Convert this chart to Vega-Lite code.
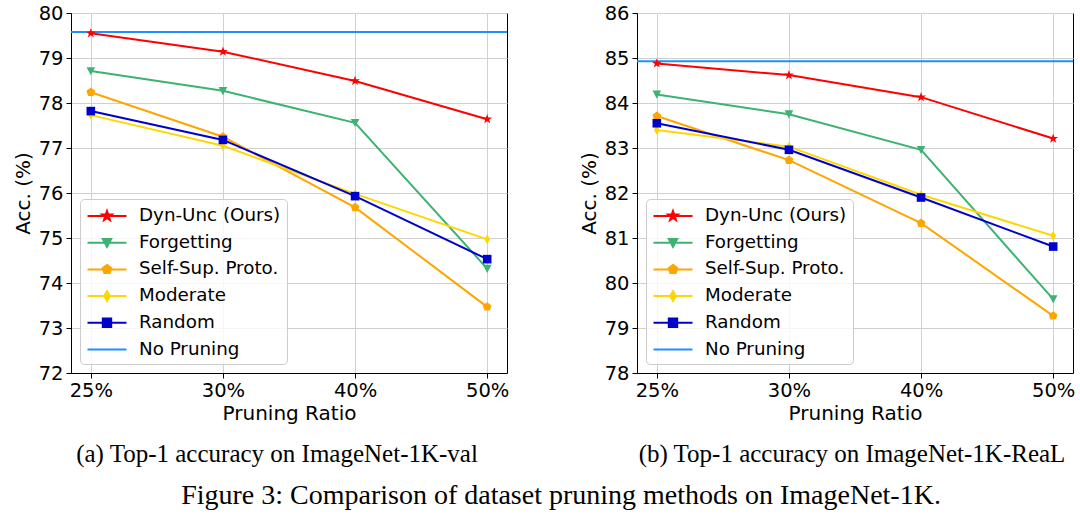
{
  "$schema": "https://vega.github.io/schema/vega-lite/v6.json",
  "background": "white",
  "padding": {"left": 12, "top": 2, "right": 4, "bottom": 2},
  "spacing": 68,
  "title": {"text": "Figure 3: Comparison of dataset pruning methods on ImageNet-1K.", "orient": "bottom", "anchor": "middle", "font": "Liberation Serif", "fontSize": 28, "fontWeight": "normal", "color": "black", "offset": 15, "dx": 17},
  "datasets": {
    "acc": [
      {"panel": "a", "method": "Dyn-Unc (Ours)", "ratio": "25%", "acc": 79.55},
      {"panel": "a", "method": "Dyn-Unc (Ours)", "ratio": "30%", "acc": 79.14},
      {"panel": "a", "method": "Dyn-Unc (Ours)", "ratio": "40%", "acc": 78.49},
      {"panel": "a", "method": "Dyn-Unc (Ours)", "ratio": "50%", "acc": 77.64},
      {"panel": "a", "method": "Forgetting", "ratio": "25%", "acc": 78.71},
      {"panel": "a", "method": "Forgetting", "ratio": "30%", "acc": 78.27},
      {"panel": "a", "method": "Forgetting", "ratio": "40%", "acc": 77.56},
      {"panel": "a", "method": "Forgetting", "ratio": "50%", "acc": 74.32},
      {"panel": "a", "method": "Self-Sup. Proto.", "ratio": "25%", "acc": 78.24},
      {"panel": "a", "method": "Self-Sup. Proto.", "ratio": "30%", "acc": 77.25},
      {"panel": "a", "method": "Self-Sup. Proto.", "ratio": "40%", "acc": 75.68},
      {"panel": "a", "method": "Self-Sup. Proto.", "ratio": "50%", "acc": 73.47},
      {"panel": "a", "method": "Moderate", "ratio": "25%", "acc": 77.73},
      {"panel": "a", "method": "Moderate", "ratio": "30%", "acc": 77.05},
      {"panel": "a", "method": "Moderate", "ratio": "40%", "acc": 75.98},
      {"panel": "a", "method": "Moderate", "ratio": "50%", "acc": 74.97},
      {"panel": "a", "method": "Random", "ratio": "25%", "acc": 77.82},
      {"panel": "a", "method": "Random", "ratio": "30%", "acc": 77.18},
      {"panel": "a", "method": "Random", "ratio": "40%", "acc": 75.93},
      {"panel": "a", "method": "Random", "ratio": "50%", "acc": 74.53},
      {"panel": "a", "method": "No Pruning", "acc": 79.58},
      {"panel": "b", "method": "Dyn-Unc (Ours)", "ratio": "25%", "acc": 84.88},
      {"panel": "b", "method": "Dyn-Unc (Ours)", "ratio": "30%", "acc": 84.62},
      {"panel": "b", "method": "Dyn-Unc (Ours)", "ratio": "40%", "acc": 84.13},
      {"panel": "b", "method": "Dyn-Unc (Ours)", "ratio": "50%", "acc": 83.21},
      {"panel": "b", "method": "Forgetting", "ratio": "25%", "acc": 84.19},
      {"panel": "b", "method": "Forgetting", "ratio": "30%", "acc": 83.75},
      {"panel": "b", "method": "Forgetting", "ratio": "40%", "acc": 82.96},
      {"panel": "b", "method": "Forgetting", "ratio": "50%", "acc": 79.64},
      {"panel": "b", "method": "Self-Sup. Proto.", "ratio": "25%", "acc": 83.71},
      {"panel": "b", "method": "Self-Sup. Proto.", "ratio": "30%", "acc": 82.73},
      {"panel": "b", "method": "Self-Sup. Proto.", "ratio": "40%", "acc": 81.33},
      {"panel": "b", "method": "Self-Sup. Proto.", "ratio": "50%", "acc": 79.27},
      {"panel": "b", "method": "Moderate", "ratio": "25%", "acc": 83.40},
      {"panel": "b", "method": "Moderate", "ratio": "30%", "acc": 83.03},
      {"panel": "b", "method": "Moderate", "ratio": "40%", "acc": 81.96},
      {"panel": "b", "method": "Moderate", "ratio": "50%", "acc": 81.05},
      {"panel": "b", "method": "Random", "ratio": "25%", "acc": 83.55},
      {"panel": "b", "method": "Random", "ratio": "30%", "acc": 82.96},
      {"panel": "b", "method": "Random", "ratio": "40%", "acc": 81.90},
      {"panel": "b", "method": "Random", "ratio": "50%", "acc": 80.81},
      {"panel": "b", "method": "No Pruning", "acc": 84.93}
    ]
  },
  "hconcat": [
    {
      "width": 436,
      "height": 360,
      "data": {"name": "acc"},
      "transform": [{"filter": "datum.panel === 'a'"}],
      "title": {"text": "(a) Top-1 accuracy on ImageNet-1K-val", "orient": "bottom", "anchor": "middle", "font": "Liberation Serif", "fontSize": 25, "fontWeight": "normal", "color": "black", "offset": 18, "dx": -12},
      "layer": [
        {
          "transform": [{"filter": "datum.method === 'No Pruning'"}],
          "mark": {"type": "rule", "strokeWidth": 2},
          "encoding": {
            "y": {"field": "acc", "type": "quantitative"},
            "color": {"field": "method", "type": "nominal"}
          }
        },
        {
          "transform": [{"filter": "datum.method !== 'No Pruning'"}],
          "mark": {"type": "line", "strokeWidth": 2},
          "encoding": {
            "x": {"field": "ratio", "type": "ordinal", "sort": ["25%", "30%", "40%", "50%"], "scale": {"type": "point", "padding": 0.15}, "axis": {"title": "Pruning Ratio", "labelAngle": 0}},
            "y": {"field": "acc", "type": "quantitative", "scale": {"domain": [72, 80], "nice": false, "zero": false}, "axis": {"title": "Acc. (%)", "values": [72, 73, 74, 75, 76, 77, 78, 79, 80]}},
            "color": {"field": "method", "type": "nominal",
              "scale": {"domain": ["Dyn-Unc (Ours)", "Forgetting", "Self-Sup. Proto.", "Moderate", "Random", "No Pruning"], "range": ["#ff0000", "#3cb371", "#ffa500", "#ffd700", "#0000cd", "#1e90ff"]},
              "legend": {"title": null, "orient": "bottom-left", "offset": 9, "padding": 6, "rowPadding": 6.7, "symbolSize": 400, "symbolOffset": 10, "labelOffset": 21, "labelFont": "DejaVu Sans", "labelFontSize": 18.3, "labelColor": "black", "fillColor": "rgba(255,255,255,0.8)", "strokeColor": "#cccccc", "cornerRadius": 4,
                "encode": {"symbols": {"update": {
                  "shape": {"signal": "datum.value === 'Dyn-Unc (Ours)' ? 'M-1.95,0H1.95M0,-0.5L0.118,-0.162L0.476,-0.155L0.19,0.062L0.294,0.405L0,0.2L-0.294,0.405L-0.19,0.062L-0.476,-0.155L-0.118,-0.162Z' : datum.value === 'Forgetting' ? 'M-1.95,0H1.95M-0.42,-0.38H0.42L0,0.42Z' : datum.value === 'Self-Sup. Proto.' ? 'M-1.95,0H1.95M0,-0.45L0.428,-0.139L0.265,0.364L-0.265,0.364L-0.428,-0.139Z' : datum.value === 'Moderate' ? 'M-1.95,0H1.95M0,-0.48L0.28,0L0,0.48L-0.28,0Z' : datum.value === 'Random' ? 'M-1.95,0H1.95M-0.42,-0.42H0.42V0.42H-0.42Z' : 'M-1.95,0H1.95'"},
                  "fill": {"signal": "datum.value === 'Dyn-Unc (Ours)' ? '#ff0000' : datum.value === 'Forgetting' ? '#3cb371' : datum.value === 'Self-Sup. Proto.' ? '#ffa500' : datum.value === 'Moderate' ? '#ffd700' : datum.value === 'Random' ? '#0000cd' : '#1e90ff'"},
                  "stroke": {"signal": "datum.value === 'Dyn-Unc (Ours)' ? '#ff0000' : datum.value === 'Forgetting' ? '#3cb371' : datum.value === 'Self-Sup. Proto.' ? '#ffa500' : datum.value === 'Moderate' ? '#ffd700' : datum.value === 'Random' ? '#0000cd' : '#1e90ff'"},
                  "strokeWidth": {"value": 2},
                  "opacity": {"value": 1},
                  "size": {"value": 400}
                }}}
              }
            }
          }
        },
        {
          "transform": [{"filter": "datum.method !== 'No Pruning'"}],
          "mark": {"type": "point", "filled": true, "size": 420, "opacity": 1},
          "encoding": {
            "x": {"field": "ratio", "type": "ordinal", "sort": ["25%", "30%", "40%", "50%"]},
            "y": {"field": "acc", "type": "quantitative"},
            "color": {"field": "method", "type": "nominal"},
            "shape": {"field": "method", "type": "nominal", "legend": null,
              "scale": {"domain": ["Dyn-Unc (Ours)", "Forgetting", "Self-Sup. Proto.", "Moderate", "Random"],
                "range": ["M0,-0.5L0.118,-0.162L0.476,-0.155L0.19,0.062L0.294,0.405L0,0.2L-0.294,0.405L-0.19,0.062L-0.476,-0.155L-0.118,-0.162Z", "M-0.42,-0.38H0.42L0,0.42Z", "M0,-0.45L0.428,-0.139L0.265,0.364L-0.265,0.364L-0.428,-0.139Z", "M0,-0.48L0.28,0L0,0.48L-0.28,0Z", "M-0.42,-0.42H0.42V0.42H-0.42Z"]}}
          }
        }
      ]
    },
    {
      "width": 436,
      "height": 360,
      "data": {"name": "acc"},
      "transform": [{"filter": "datum.panel === 'b'"}],
      "title": {"text": "(b) Top-1 accuracy on ImageNet-1K-ReaL", "orient": "bottom", "anchor": "middle", "font": "Liberation Serif", "fontSize": 25, "fontWeight": "normal", "color": "black", "offset": 18, "dx": -3},
      "layer": [
        {
          "transform": [{"filter": "datum.method === 'No Pruning'"}],
          "mark": {"type": "rule", "strokeWidth": 2},
          "encoding": {
            "y": {"field": "acc", "type": "quantitative"},
            "color": {"field": "method", "type": "nominal"}
          }
        },
        {
          "transform": [{"filter": "datum.method !== 'No Pruning'"}],
          "mark": {"type": "line", "strokeWidth": 2},
          "encoding": {
            "x": {"field": "ratio", "type": "ordinal", "sort": ["25%", "30%", "40%", "50%"], "scale": {"type": "point", "padding": 0.15}, "axis": {"title": "Pruning Ratio", "labelAngle": 0}},
            "y": {"field": "acc", "type": "quantitative", "scale": {"domain": [78, 86], "nice": false, "zero": false}, "axis": {"title": "Acc. (%)", "values": [78, 79, 80, 81, 82, 83, 84, 85, 86]}},
            "color": {"field": "method", "type": "nominal",
              "scale": {"domain": ["Dyn-Unc (Ours)", "Forgetting", "Self-Sup. Proto.", "Moderate", "Random", "No Pruning"], "range": ["#ff0000", "#3cb371", "#ffa500", "#ffd700", "#0000cd", "#1e90ff"]},
              "legend": {"title": null, "orient": "bottom-left", "offset": 9, "padding": 6, "rowPadding": 6.7, "symbolSize": 400, "symbolOffset": 10, "labelOffset": 21, "labelFont": "DejaVu Sans", "labelFontSize": 18.3, "labelColor": "black", "fillColor": "rgba(255,255,255,0.8)", "strokeColor": "#cccccc", "cornerRadius": 4,
                "encode": {"symbols": {"update": {
                  "shape": {"signal": "datum.value === 'Dyn-Unc (Ours)' ? 'M-1.95,0H1.95M0,-0.5L0.118,-0.162L0.476,-0.155L0.19,0.062L0.294,0.405L0,0.2L-0.294,0.405L-0.19,0.062L-0.476,-0.155L-0.118,-0.162Z' : datum.value === 'Forgetting' ? 'M-1.95,0H1.95M-0.42,-0.38H0.42L0,0.42Z' : datum.value === 'Self-Sup. Proto.' ? 'M-1.95,0H1.95M0,-0.45L0.428,-0.139L0.265,0.364L-0.265,0.364L-0.428,-0.139Z' : datum.value === 'Moderate' ? 'M-1.95,0H1.95M0,-0.48L0.28,0L0,0.48L-0.28,0Z' : datum.value === 'Random' ? 'M-1.95,0H1.95M-0.42,-0.42H0.42V0.42H-0.42Z' : 'M-1.95,0H1.95'"},
                  "fill": {"signal": "datum.value === 'Dyn-Unc (Ours)' ? '#ff0000' : datum.value === 'Forgetting' ? '#3cb371' : datum.value === 'Self-Sup. Proto.' ? '#ffa500' : datum.value === 'Moderate' ? '#ffd700' : datum.value === 'Random' ? '#0000cd' : '#1e90ff'"},
                  "stroke": {"signal": "datum.value === 'Dyn-Unc (Ours)' ? '#ff0000' : datum.value === 'Forgetting' ? '#3cb371' : datum.value === 'Self-Sup. Proto.' ? '#ffa500' : datum.value === 'Moderate' ? '#ffd700' : datum.value === 'Random' ? '#0000cd' : '#1e90ff'"},
                  "strokeWidth": {"value": 2},
                  "opacity": {"value": 1},
                  "size": {"value": 400}
                }}}
              }
            }
          }
        },
        {
          "transform": [{"filter": "datum.method !== 'No Pruning'"}],
          "mark": {"type": "point", "filled": true, "size": 420, "opacity": 1},
          "encoding": {
            "x": {"field": "ratio", "type": "ordinal", "sort": ["25%", "30%", "40%", "50%"]},
            "y": {"field": "acc", "type": "quantitative"},
            "color": {"field": "method", "type": "nominal"},
            "shape": {"field": "method", "type": "nominal", "legend": null,
              "scale": {"domain": ["Dyn-Unc (Ours)", "Forgetting", "Self-Sup. Proto.", "Moderate", "Random"],
                "range": ["M0,-0.5L0.118,-0.162L0.476,-0.155L0.19,0.062L0.294,0.405L0,0.2L-0.294,0.405L-0.19,0.062L-0.476,-0.155L-0.118,-0.162Z", "M-0.42,-0.38H0.42L0,0.42Z", "M0,-0.45L0.428,-0.139L0.265,0.364L-0.265,0.364L-0.428,-0.139Z", "M0,-0.48L0.28,0L0,0.48L-0.28,0Z", "M-0.42,-0.42H0.42V0.42H-0.42Z"]}}
          }
        }
      ]
    }
  ],
  "resolve": {
    "scale": {"y": "independent", "x": "independent", "color": "independent", "shape": "independent"},
    "legend": {"color": "independent", "shape": "independent"}
  },
  "config": {
    "view": {"stroke": "black", "strokeWidth": 1},
    "axis": {
      "labelFont": "DejaVu Sans", "labelFontSize": 19.5, "labelColor": "black",
      "titleFont": "DejaVu Sans", "titleFontSize": 20, "titleFontWeight": "normal", "titleColor": "black",
      "tickColor": "black", "tickSize": 5, "labelPadding": 3, "domainColor": "black",
      "grid": true, "gridColor": "#d0d0d0", "gridWidth": 1,
      "labelOverlap": false, "labelFlush": false
    },
    "axisY": {"titlePadding": 5},
    "axisX": {"titlePadding": 4}
  }
}
